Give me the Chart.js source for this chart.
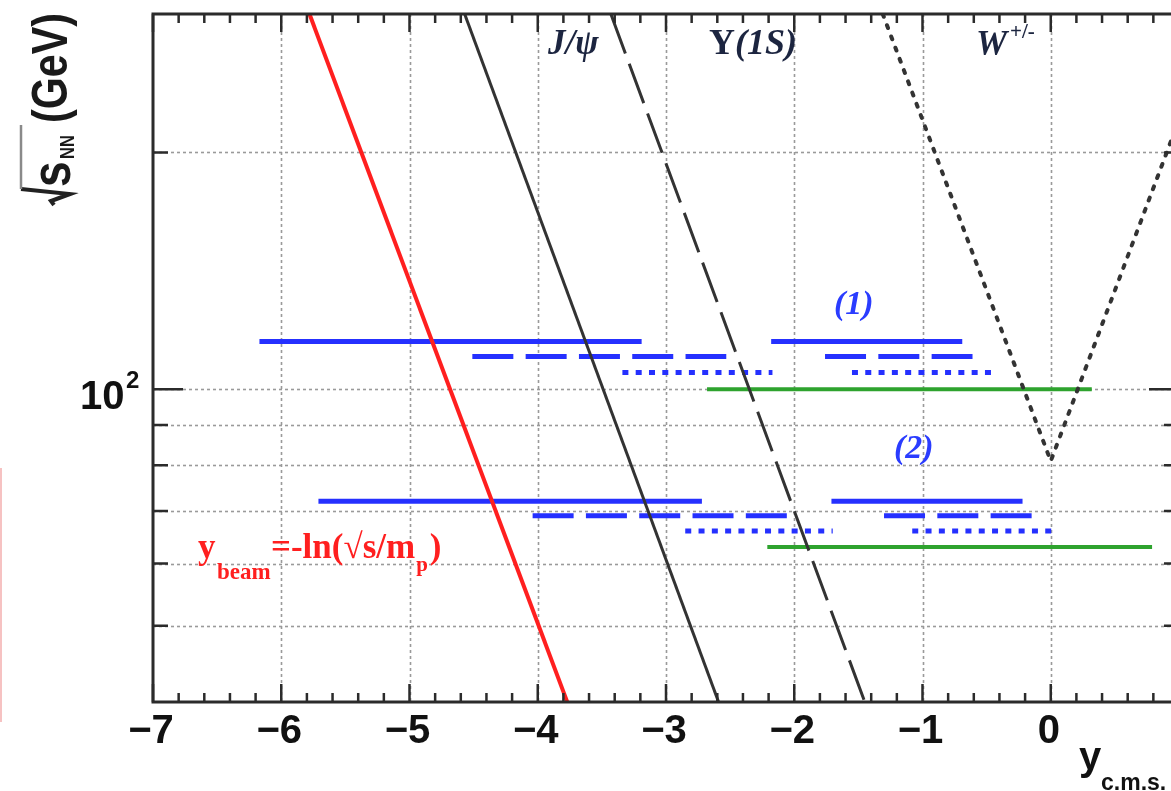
<!DOCTYPE html>
<html>
<head>
<meta charset="utf-8">
<script src="https://cdn.jsdelivr.net/npm/chart.js@4/dist/chart.umd.min.js"></script>
<style>
  html, body { margin: 0; padding: 0; background: #fff; overflow: hidden; }
  #wrap { position: relative; width: 1200px; height: 791px; }
  #edge { position: absolute; left: 0; top: 468px; width: 2px; height: 254px; background: #f6c2c2; }
</style>
</head>
<body>
<div id="wrap">
  <canvas id="c" width="1200" height="791"></canvas>
  <div id="edge"></div>
</div>
<script>
// Axis ranges
const xRange = [-7, 1];
const sRange = [40, 300];
const xTickValues = [-7, -6, -5, -4, -3, -2, -1, 0];
const xTickLabels = ['\u22127', '\u22126', '\u22125', '\u22124', '\u22123', '\u22122', '\u22121', '0'];
const sGridValues = [50, 60, 70, 80, 90, 100, 200];
const sLabelValue = 100;

// Beam rapidity and particle thresholds (endpoints in y_cms, sqrt(s_NN) in GeV)
const beamX = [-5.78, -3.77];
const beamS = [300, 40];
const jpsiX = [-4.57, -2.59];
const jpsiS = [300, 40];
const upsX = [-3.43, -1.45];
const upsS = [300, 40];
const wX = [-1.31, 0, 1.31];
const wS = [300, 81, 300];

// Acceptance ranges, set (1)
const solid1aX = [-6.17, -3.19], solid1bX = [-2.18, -0.69], solid1S = 115;
const dash1aX = [-4.51, -2.53], dash1bX = [-1.76, -0.61], dash1S = 110;
const dot1aX = [-3.34, -2.17], dot1bX = [-1.55, -0.42], dot1S = 105;
const green1X = [-2.68, 0.32], green1S = 100;

// Acceptance ranges, set (2)
const solid2aX = [-5.71, -2.72], solid2bX = [-1.71, -0.22], solid2S = 72;
const dash2aX = [-4.04, -2.05], dash2bX = [-1.30, -0.14], dash2S = 69;
const dot2aX = [-2.85, -1.70], dot2bX = [-1.08, 0.05], dot2S = 66;
const green2X = [-2.21, 0.79], green2S = 63;

const RED = '#ff1f1f', BLUE = '#2530ff', GREEN = '#2ea32e', DARK = '#333333';

function pts(xs, ss) {
  return xs.map((x, i) => ({ x: x, y: Array.isArray(ss) ? ss[i] : ss }));
}
function line(data, color, width, dash, cap) {
  return {
    data: data, borderColor: color, borderWidth: width, borderDash: dash || [],
    borderCapStyle: cap || 'butt', pointRadius: 0, showLine: true, tension: 0, clip: 0, fill: false
  };
}

const datasets = [
  line(pts(beamX, beamS), RED, 4),
  line(pts(jpsiX, jpsiS), DARK, 3),
  line(pts(upsX, upsS), DARK, 3, [42, 11]),
  line(pts(wX, wS), DARK, 4, [3, 9], 'round'),
  line(pts(solid1aX, solid1S), BLUE, 5),
  line(pts(solid1bX, solid1S), BLUE, 5),
  line(pts(dash1aX, dash1S), BLUE, 5, [41, 12.3]),
  line(pts(dash1bX, dash1S), BLUE, 5, [41, 12.3]),
  line(pts(dot1aX, dot1S), BLUE, 5, [6, 7.3]),
  line(pts(dot1bX, dot1S), BLUE, 5, [6, 7.3]),
  line(pts(green1X, green1S), GREEN, 4),
  line(pts(solid2aX, solid2S), BLUE, 5),
  line(pts(solid2bX, solid2S), BLUE, 5),
  line(pts(dash2aX, dash2S), BLUE, 5, [41, 12.3]),
  line(pts(dash2bX, dash2S), BLUE, 5, [41, 12.3]),
  line(pts(dot2aX, dot2S), BLUE, 5, [6, 7.3]),
  line(pts(dot2bX, dot2S), BLUE, 5, [6, 7.3]),
  line(pts(green2X, green2S), GREEN, 4)
];

const SANS = '"Liberation Sans", Arial, sans-serif';
const SERIF = '"Liberation Serif", "Times New Roman", serif';

const decorations = {
  id: 'decorations',
  beforeDatasetsDraw(chart) {
    const { ctx, chartArea: a, scales: { x, y } } = chart;
    ctx.save();
    ctx.strokeStyle = '#9a9a9a';
    ctx.lineWidth = 1.6;
    ctx.setLineDash([3, 3]);
    xTickValues.forEach(v => {
      if (v <= xRange[0] || v >= xRange[1]) return;
      const px = Math.round(x.getPixelForValue(v)) + 0.5;
      ctx.beginPath(); ctx.moveTo(px, a.top); ctx.lineTo(px, a.bottom); ctx.stroke();
    });
    sGridValues.forEach(v => {
      const py = Math.round(y.getPixelForValue(v)) + 0.5;
      ctx.beginPath(); ctx.moveTo(a.left, py); ctx.lineTo(a.right, py); ctx.stroke();
    });
    ctx.restore();
  },
  afterDatasetsDraw(chart) {
    const { ctx, chartArea: a, scales: { x, y } } = chart;
    ctx.save();
    ctx.strokeStyle = '#2b2b2b';
    ctx.lineWidth = 3;
    ctx.setLineDash([]);
    // frame
    ctx.strokeRect(a.left, a.top, a.right - a.left, a.bottom - a.top);
    // x ticks (bottom and top, pointing inward)
    ctx.lineWidth = 2.5;
    for (let k = 0; k <= 40; k++) {
      const v = xRange[0] + k * 0.2;
      const major = k % 5 === 0;
      const len = major ? 18 : 9;
      const px = x.getPixelForValue(v);
      ctx.beginPath();
      ctx.moveTo(px, a.bottom); ctx.lineTo(px, a.bottom - len);
      ctx.moveTo(px, a.top); ctx.lineTo(px, a.top + len);
      ctx.stroke();
    }
    // y ticks (left and right, pointing inward)
    sGridValues.forEach(v => {
      const len = v === sLabelValue ? 30 : 15;
      const py = y.getPixelForValue(v);
      ctx.beginPath();
      ctx.moveTo(a.left, py); ctx.lineTo(a.left + len, py);
      ctx.moveTo(a.right, py); ctx.lineTo(a.right - len, py);
      ctx.stroke();
    });
    // x tick labels
    ctx.fillStyle = '#111';
    ctx.font = 'bold 40px ' + SANS;
    ctx.textAlign = 'center';
    ctx.textBaseline = 'alphabetic';
    xTickValues.forEach((v, i) => {
      ctx.fillText(xTickLabels[i], x.getPixelForValue(v) - 2, 743);
    });
    // y tick label 10^2
    const py100 = y.getPixelForValue(sLabelValue);
    ctx.textAlign = 'left';
    ctx.font = 'bold 40px ' + SANS;
    ctx.fillText('10', 80, py100 + 20);
    ctx.font = 'bold 24px ' + SANS;
    ctx.fillText('2', 126, py100 - 1);

    // x axis title
    ctx.font = 'bold 40px ' + SANS;
    ctx.fillText('y', 1079, 770);
    ctx.font = 'bold 23px ' + SANS;
    ctx.fillText('c.m.s.', 1101, 790);

    // y axis title: sqrt(s_NN)(GeV), rotated
    ctx.save();
    ctx.translate(71, 205);
    ctx.rotate(-Math.PI / 2);
    ctx.strokeStyle = '#222';
    ctx.lineWidth = 4;
    ctx.beginPath();
    ctx.moveTo(0, -17); ctx.lineTo(4, -20); ctx.lineTo(11, -1); ctx.lineTo(16, -50);
    ctx.stroke();
    ctx.strokeStyle = '#8a8a8a';
    ctx.lineWidth = 2.5;
    ctx.beginPath(); ctx.moveTo(16, -50); ctx.lineTo(80, -50); ctx.stroke();
    ctx.fillStyle = '#1a1a1a';
    ctx.font = 'bold 50px ' + SANS;
    const gevW = ctx.measureText('(GeV)').width;
    const sx = 110 / gevW;
    ctx.save();
    ctx.scale(sx, 1);
    ctx.font = 'bold 56px ' + SANS;
    ctx.fillText('s', 18 / sx, -1);
    ctx.font = 'bold 50px ' + SANS;
    ctx.fillText('(GeV)', 82 / sx, -4);
    ctx.font = 'bold 20px ' + SANS;
    ctx.fillText('NN', 46 / sx, 3);
    ctx.restore();
    ctx.restore();

    // particle labels
    ctx.fillStyle = '#1c2540';
    ctx.font = 'bold italic 35px ' + SERIF;
    ctx.fillText('J/\u03c8', 548, 54);
    ctx.font = 'bold 36px ' + SERIF;
    ctx.fillText('\u03a5', 709, 54);
    let w = ctx.measureText('\u03a5').width;
    ctx.font = 'bold italic 36px ' + SERIF;
    ctx.fillText('(1S)', 709 + w, 54);
    ctx.font = 'bold italic 35px ' + SERIF;
    ctx.fillText('W', 976, 55);
    ctx.font = 'bold 21px ' + SERIF;
    ctx.fillText('+/-', 1010, 38);

    // set labels
    ctx.fillStyle = '#2a3cff';
    ctx.font = 'bold italic 34px ' + SERIF;
    ctx.fillText('(1)', 834, 314);
    ctx.fillText('(2)', 894, 458);

    // beam rapidity label
    ctx.fillStyle = RED;
    ctx.font = 'bold 35px ' + SERIF;
    ctx.fillText('y', 198, 558);
    ctx.font = 'bold 23px ' + SERIF;
    ctx.fillText('beam', 217, 579);
    ctx.font = 'bold 35px ' + SERIF;
    const main = '=-ln(\u221as/m';
    ctx.fillText(main, 271, 558);
    let px = 271 + ctx.measureText(main).width;
    ctx.font = 'bold 21px ' + SERIF;
    ctx.fillText('p', px + 1, 571);
    px += ctx.measureText('p').width + 3;
    ctx.font = 'bold 35px ' + SERIF;
    ctx.fillText(')', px, 558);
    ctx.restore();
  }
};

new Chart(document.getElementById('c'), {
  type: 'scatter',
  data: { datasets: datasets },
  options: {
    responsive: false,
    animation: false,
    layout: { padding: { left: 153, top: 14, right: 21, bottom: 89 } },
    plugins: { legend: { display: false }, tooltip: { enabled: false } },
    scales: {
      x: { type: 'linear', min: xRange[0], max: xRange[1], display: false },
      y: { type: 'logarithmic', min: sRange[0], max: sRange[1], display: false }
    }
  },
  plugins: [decorations]
});
</script>
</body>
</html>
